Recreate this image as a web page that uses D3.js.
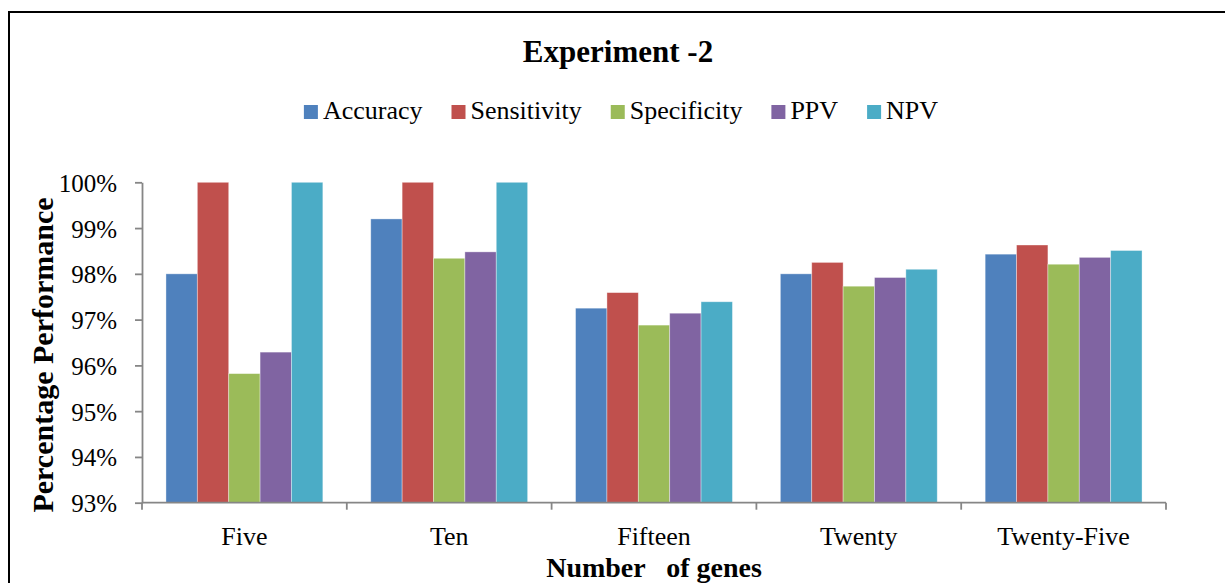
<!DOCTYPE html>
<html>
<head>
<meta charset="utf-8">
<script src="https://cdn.jsdelivr.net/npm/d3@7"></script>
<style>
  body { margin: 0; background: #fff; }
  svg { display: block; font-family: "Liberation Serif", "Times New Roman", serif; }
</style>
</head>
<body>
<svg id="chart" width="1225" height="583"></svg>
<script>
// data
const categories = ['Five', 'Ten', 'Fifteen', 'Twenty', 'Twenty-Five']
const seriesNames = ['Accuracy', 'Sensitivity', 'Specificity', 'PPV', 'NPV']
const accuracy    = [98.00, 99.20, 97.25, 98.00, 98.43]
const sensitivity = [100.0, 100.0, 97.59, 98.25, 98.63]
const specificity = [95.82, 98.34, 96.88, 97.73, 98.21]
const ppv         = [96.29, 98.48, 97.14, 97.92, 98.36]
const npv         = [100.0, 100.0, 97.39, 98.10, 98.51]
const yTicks = [93, 94, 95, 96, 97, 98, 99, 100]

const seriesColors = ['#4f81bd', '#c0504d', '#9bbb59', '#8064a2', '#4bacc6']
const values = [accuracy, sensitivity, specificity, ppv, npv]

const svg = d3.select('#chart')
const axisColor = '#868686'

// frame
svg.append('rect')
  .attr('x', 9).attr('y', 12)
  .attr('width', 1240).attr('height', 600)
  .attr('fill', 'none').attr('stroke', '#000').attr('stroke-width', 2)

// scales
const x0 = d3.scaleBand().domain(categories).range([142, 1166]).padding(0)
const x1 = d3.scaleBand().domain(seriesNames)
  .range([x0.bandwidth() * 0.117, x0.bandwidth() * 0.883]).padding(0)
const y = d3.scaleLinear().domain([93, 100]).range([502.7, 182.3])
const color = d3.scaleOrdinal().domain(seriesNames).range(seriesColors)

// bars
const groups = svg.append('g').attr('class', 'bars')
  .selectAll('g')
  .data(categories)
  .join('g')
  .attr('transform', d => `translate(${x0(d)},0)`)

groups.selectAll('rect')
  .data((c, i) => seriesNames.map((s, j) => ({ key: s, value: values[j][i] })))
  .join('rect')
  .attr('x', d => x1(d.key))
  .attr('width', x1.bandwidth())
  .attr('y', d => y(d.value))
  .attr('height', d => y(93) - y(d.value))
  .attr('fill', d => color(d.key))
  .attr('stroke', 'rgba(255,255,255,0.45)')
  .attr('stroke-width', 0.8)

// y axis
const yAxis = svg.append('g')
  .attr('transform', 'translate(142,0)')
  .call(d3.axisLeft(y).tickValues(yTicks).tickFormat(d => d + '%')
    .tickSizeInner(7).tickSizeOuter(0).tickPadding(18))
yAxis.select('.domain').attr('stroke', axisColor).attr('stroke-width', 1.8)
yAxis.selectAll('.tick line').attr('stroke', axisColor).attr('stroke-width', 1.8)
yAxis.selectAll('.tick text')
  .attr('font-family', '"Liberation Serif", serif')
  .attr('font-size', 25).attr('fill', '#000')
  .attr('dy', '0.36em')

// x axis: line, boundary ticks, centered labels
const xAxis = svg.append('g').attr('class', 'x-axis')
xAxis.append('line')
  .attr('x1', 142).attr('x2', 1166)
  .attr('y1', y(93)).attr('y2', y(93))
  .attr('stroke', axisColor).attr('stroke-width', 1.8)
xAxis.selectAll('.bound')
  .data(categories.concat(['end']))
  .join('line')
  .attr('class', 'bound')
  .attr('x1', d => d === 'end' ? 1166 : x0(d))
  .attr('x2', d => d === 'end' ? 1166 : x0(d))
  .attr('y1', y(93)).attr('y2', y(93) + 7)
  .attr('stroke', axisColor).attr('stroke-width', 1.8)
xAxis.selectAll('.cat')
  .data(categories)
  .join('text')
  .attr('class', 'cat')
  .attr('x', d => x0(d) + x0.bandwidth() / 2)
  .attr('y', 545)
  .attr('text-anchor', 'middle')
  .attr('font-size', 26)
  .text(d => d)

// titles
svg.append('text')
  .attr('x', 618).attr('y', 62)
  .attr('text-anchor', 'middle')
  .attr('font-size', 31).attr('font-weight', 'bold')
  .text('Experiment -2')

svg.append('text')
  .attr('x', 654).attr('y', 577)
  .attr('text-anchor', 'middle')
  .attr('font-size', 28).attr('font-weight', 'bold')
  .attr('xml:space', 'preserve')
  .style('white-space', 'pre')
  .text('Number   of genes')

svg.append('text')
  .attr('transform', 'translate(53,355) rotate(-90)')
  .attr('text-anchor', 'middle')
  .attr('font-size', 30).attr('font-weight', 'bold')
  .text('Percentage Performance')

// legend
const legend = svg.append('g').attr('class', 'legend')
const items = legend.selectAll('g')
  .data(seriesNames)
  .join('g')
items.append('rect')
  .attr('width', 14).attr('height', 14)
  .attr('y', -14)
  .attr('fill', d => color(d))
items.append('text')
  .attr('x', 19)
  .attr('font-size', 26)
  .text(d => d)

let cx = 0
items.each(function() {
  const w = 19 + d3.select(this).select('text').node().getComputedTextLength()
  d3.select(this).attr('transform', `translate(${cx},0)`)
  cx += w + 29
})
const legendWidth = cx - 29
legend.attr('transform', `translate(${621 - legendWidth / 2},119)`)
</script>
</body>
</html>
